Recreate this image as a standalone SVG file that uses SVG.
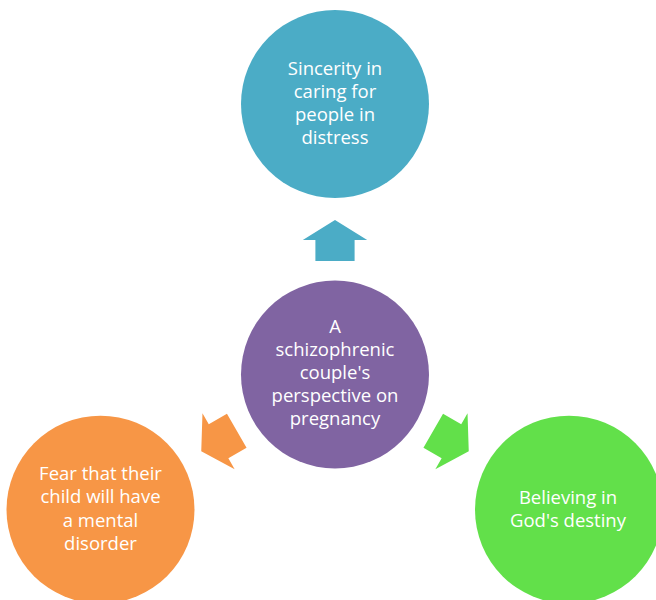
<svg xmlns="http://www.w3.org/2000/svg" width="656" height="600" viewBox="0 0 656 600">
<style>
.t{font-family:"Open Sans","Noto Sans",sans-serif;font-size:18.5px;fill:#ffffff;text-anchor:middle}
</style>
<defs>
<path id="arr" d="M0,-20.5 L32.2,-0.5 L19.6,-0.5 L19.6,20.5 L-19.6,20.5 L-19.6,-0.5 L-32.2,-0.5 Z"/>
</defs>
<rect width="656" height="600" fill="#ffffff"/>
<g id="connectors">
<use href="#arr" transform="translate(335,240.5)" fill="#4BACC6"/>
<use href="#arr" transform="translate(219,441) rotate(-120)" fill="#F79646"/>
<use href="#arr" transform="translate(451,441) rotate(120)" fill="#62E04A"/>
</g>
<g id="top">
<circle cx="335" cy="104" r="94" fill="#4BACC6"/>
<text class="t" x="335" y="75">Sincerity in</text>
<text class="t" x="335" y="98">caring for</text>
<text class="t" x="335" y="121">people in</text>
<text class="t" x="335" y="144">distress</text>
</g>
<g id="center">
<circle cx="335" cy="374.5" r="94" fill="#8064A2"/>
<text class="t" x="335" y="333">A</text>
<text class="t" x="335" y="356">schizophrenic</text>
<text class="t" x="335" y="379">couple's</text>
<text class="t" x="335" y="402">perspective on</text>
<text class="t" x="335" y="425">pregnancy</text>
</g>
<g id="left">
<circle cx="100.5" cy="509.7" r="94" fill="#F79646"/>
<text class="t" x="100.5" y="480">Fear that their</text>
<text class="t" x="100.5" y="503">child will have</text>
<text class="t" x="100.5" y="527">a mental</text>
<text class="t" x="100.5" y="550">disorder</text>
</g>
<g id="right">
<circle cx="569" cy="509.7" r="94" fill="#62E04A"/>
<text class="t" x="568" y="504">Believing in</text>
<text class="t" x="568" y="527">God's destiny</text>
</g>
</svg>
